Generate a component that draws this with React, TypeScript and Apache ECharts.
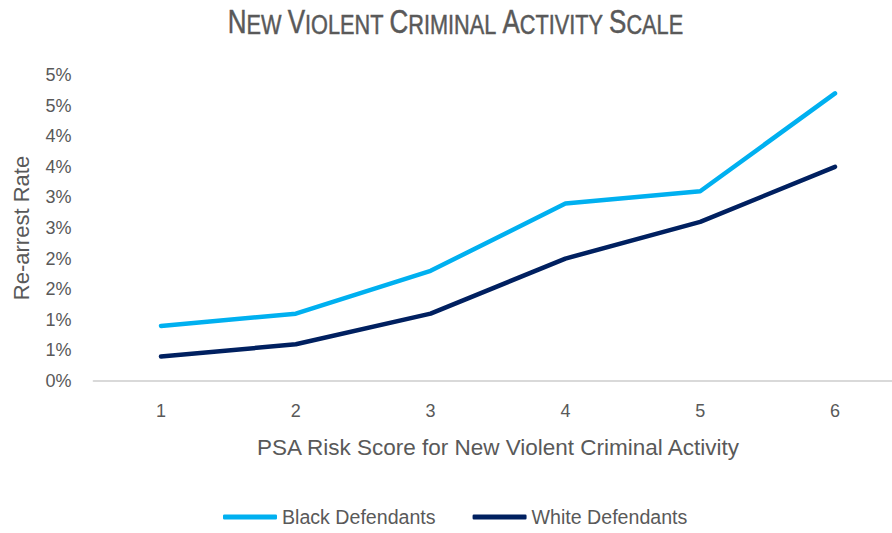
import React, { useEffect, useRef } from "react";
import * as echarts from "echarts";

const TITLE = "New Violent Criminal Activity Scale";
const X_NAME = "PSA Risk Score for New Violent Criminal Activity";
const Y_NAME = "Re-arrest Rate";
const CATEGORIES = ["1", "2", "3", "4", "5", "6"];
const BLACK_NAME = "Black Defendants";
const WHITE_NAME = "White Defendants";
// re-arrest rate, in percent
const BLACK_VALUES = [0.9, 1.1, 1.8, 2.9, 3.1, 4.7];
const WHITE_VALUES = [0.4, 0.6, 1.1, 2.0, 2.6, 3.5];

const FONT = "'Liberation Sans', Arial, sans-serif";
const GRAY = "#595959";

function smallCaps(s: string): string {
  return s
    .split(" ")
    .map((w) => `{b|${w[0].toUpperCase()}}{s|${w.slice(1).toUpperCase()}}`)
    .join("{s| }");
}

export default function App() {
  const ref = useRef<HTMLDivElement>(null);
  useEffect(() => {
    if (!ref.current) return;
    const chart = echarts.init(ref.current, undefined, { renderer: "svg" });
    chart.setOption({
      animation: false,
      backgroundColor: "#ffffff",
      graphic: {
        elements: [
          {
            type: "text",
            x: 455.5,
            y: 38,
            scaleX: 0.776,
            scaleY: 1,
            originX: 0,
            originY: 0,
            style: {
              text: smallCaps(TITLE),
              align: "center",
              verticalAlign: "bottom",
              fill: GRAY,
              rich: {
                b: {
                  fontFamily: FONT,
                  fontSize: 33.5,
                  fill: GRAY,
                  stroke: GRAY,
                  lineWidth: 0.5,
                  verticalAlign: "bottom",
                },
                s: {
                  fontFamily: FONT,
                  fontSize: 28,
                  fill: GRAY,
                  stroke: GRAY,
                  lineWidth: 0.5,
                  verticalAlign: "bottom",
                },
              },
            },
          },
        ],
      },
      grid: {
        left: 93.6,
        top: 75,
        width: 808.8,
        height: 306,
        containLabel: false,
        outerBoundsMode: "none",
      },
      legend: {
        left: 223,
        top: 507,
        padding: 0,
        itemWidth: 54,
        itemHeight: 5,
        itemGap: 37,
        icon: "roundRect",
        textStyle: { fontFamily: FONT, fontSize: 19.6, color: GRAY },
        data: [BLACK_NAME, WHITE_NAME],
      },
      xAxis: {
        type: "category",
        data: CATEGORIES,
        boundaryGap: true,
        name: X_NAME,
        nameLocation: "middle",
        nameGap: 55,
        nameTextStyle: { fontFamily: FONT, fontSize: 22.5, color: GRAY },
        axisLine: { show: true, lineStyle: { color: "#D9D9D9", width: 2 } },
        axisTick: { show: false },
        axisLabel: { fontFamily: FONT, fontSize: 18, color: GRAY, margin: 21 },
        splitLine: { show: false },
      },
      yAxis: {
        type: "value",
        min: 0,
        max: 5,
        interval: 0.5,
        name: Y_NAME,
        nameLocation: "middle",
        nameGap: 61,
        nameTextStyle: { fontFamily: FONT, fontSize: 22, color: GRAY },
        axisLine: { show: false },
        axisTick: { show: false },
        splitLine: { show: false },
        axisLabel: {
          fontFamily: FONT,
          fontSize: 18,
          color: GRAY,
          margin: 22,
          formatter: (v: number) => `${Math.round(v + 1e-9)}%`,
        },
      },
      series: [
        {
          name: BLACK_NAME,
          type: "line",
          data: BLACK_VALUES,
          symbol: "none",
          color: "#00B0F0",
          lineStyle: { width: 4.5, color: "#00B0F0", cap: "round", join: "round" },
        },
        {
          name: WHITE_NAME,
          type: "line",
          data: WHITE_VALUES,
          symbol: "none",
          color: "#002060",
          lineStyle: { width: 4.5, color: "#002060", cap: "round", join: "round" },
        },
      ],
    });
    return () => chart.dispose();
  }, []);
  return (
    <div
      ref={ref}
      style={{ position: "absolute", left: 0, top: 0, width: 892, height: 533 }}
    />
  );
}
